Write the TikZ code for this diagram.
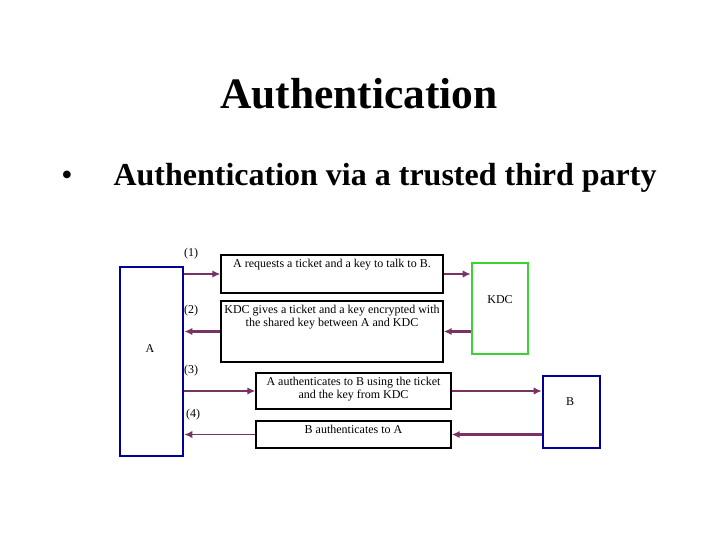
\documentclass[tikz,border=0pt]{standalone}
\usepackage{fontspec}
\setmainfont{Liberation Serif}
\usetikzlibrary{arrows.meta}

\definecolor{nodeblue}{RGB}{0,0,153}
\definecolor{kdcgreen}{RGB}{60,210,50}
\definecolor{flowpurple}{RGB}{120,50,100}

\tikzset{every picture/.style={line width=0.75pt}}
\tikzset{
  party/.style={draw=nodeblue, line width=2pt, inner sep=0pt},
  msgbox/.style={draw=black, line width=1.1pt, inner sep=0pt, minimum width=166.5pt},
  msgtext/.style={font=\fontsize{9}{10.2}\selectfont, align=center, inner sep=3pt, anchor=north},
  steplabel/.style={font=\fontsize{9}{11}\selectfont, inner sep=0pt},
  flow/.style={draw=flowpurple, line width=1pt, -{Latex[length=6pt,width=5.5pt]}},
  flowthick/.style={flow, line width=1.8pt}
}

\begin{document}
\begin{tikzpicture}[x=0.75pt,y=0.75pt,yscale=-1,xscale=1]
	\path (0,0) rectangle (720,540); %whole slide

	% Text Node
	\node [anchor=base, inner sep=0pt, font=\fontsize{32.6}{36}\selectfont\bfseries] (title) at (359,108) {Authentication};
	% Text Node
	\node [anchor=base, inner sep=0pt, font=\fontsize{24}{28}\selectfont] (bullet) at (67,185) {•};
	% Text Node
	\node [anchor=base west, inner sep=0pt, font=\fontsize{24}{28}\selectfont\bfseries] (subtitle) at (113,185) {Authentication via a trusted third party};

	%Shape: Rectangle A
	\node [party, minimum width=47.25pt, minimum height=141.75pt] (A) at (151.5,361.5) {};
	%Shape: Rectangle KDC
	\node [party, draw=kdcgreen, minimum width=42pt, minimum height=68.25pt] (KDC) at (500,308.5) {};
	%Shape: Rectangle B
	\node [party, minimum width=42.75pt, minimum height=54pt] (B) at (571.5,412) {};

	%Shape: Rectangle request
	\node [msgbox, minimum height=28.5pt] (req) at (332,274) {};
	%Shape: Rectangle reply
	\node [msgbox, minimum height=45.75pt] (reply) at (332,331.5) {};
	%Shape: Rectangle authenticate
	\node [msgbox, minimum width=146.25pt, minimum height=27pt] (auth) at (353.5,391) {};
	%Shape: Rectangle answer
	\node [msgbox, minimum width=146.25pt, minimum height=20.25pt] (back) at (353.5,434.5) {};

	% Text Node
	\node [msgtext] (reqtext) at (req.north) {A requests a ticket and a key to talk to B.};
	% Text Node
	\node [msgtext] (replytext) at (reply.north) {KDC gives a ticket and a key encrypted with\\the shared key between A and KDC};
	% Text Node
	\node [msgtext] (authtext) at (auth.north) {A authenticates to B using the ticket\\and the key from KDC};
	% Text Node
	\node [msgtext] (backtext) at (back.north) {B authenticates to A};

	% Text Node
	\node [steplabel] (nameA) at (150,349) {A};
	% Text Node
	\node [steplabel] (nameKDC) at (500,300) {KDC};
	% Text Node
	\node [steplabel] (nameB) at (570,402) {B};

	% Text Node
	\node [steplabel] (one) at (191,254) {(1)};
	% Text Node
	\node [steplabel] (two) at (191,311) {(2)};
	% Text Node
	\node [steplabel] (three) at (191,371) {(3)};
	% Text Node
	\node [steplabel] (four) at (193,415) {(4)};

	%Straight Lines (1)
	\draw [flow] (A.east |- req.west) -- (req.west);
	\draw [flow] (req.east) -- (req.east -| KDC.west);
	%Straight Lines (2)
	\draw [flowthick] (KDC.west |- reply.east) -- (reply.east);
	\draw [flowthick] (reply.west) -- (reply.west -| A.east);
	%Straight Lines (3)
	\draw [flow] (A.east |- auth.west) -- (auth.west);
	\draw [flow] (auth.east) -- (auth.east -| B.west);
	%Straight Lines (4)
	\draw [flowthick] (B.west |- back.east) -- (back.east);
	\draw [flow] (back.west) -- (back.west -| A.east);

\end{tikzpicture}
\end{document}
